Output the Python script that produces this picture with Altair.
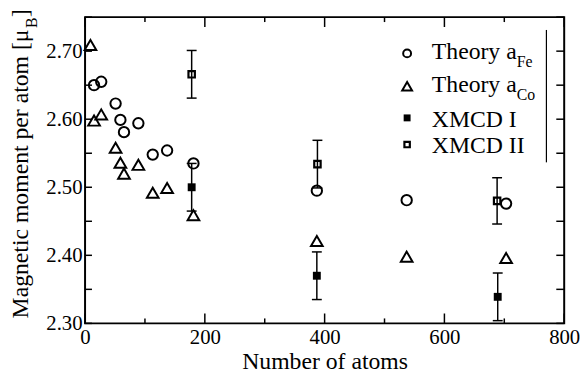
import altair as alt
import pandas as pd

# ---- data ----
fe_natoms = [15, 27, 51, 59, 65, 89, 113, 137, 181, 387, 537, 703]
fe_moment = [2.650, 2.655, 2.623, 2.599, 2.581, 2.594, 2.548, 2.554, 2.535, 2.495, 2.481, 2.476]

co_natoms = [9, 15, 27, 51, 59, 65, 89, 113, 137, 181, 387, 537, 703]
co_moment = [2.709, 2.598, 2.607, 2.558, 2.536, 2.520, 2.533, 2.492, 2.499, 2.459, 2.421, 2.398, 2.396]

xmcd1_natoms = [178, 387, 689]
xmcd1_moment = [2.500, 2.370, 2.339]
xmcd1_err = [0.035, 0.035, 0.035]

xmcd2_natoms = [178, 388, 688]
xmcd2_moment = [2.666, 2.534, 2.480]
xmcd2_err = [0.035, 0.035, 0.034]

x_label_values = [0, 200, 400, 600, 800]
x_major_ticks = [0, 200, 400, 600, 800]
x_minor_ticks = [100, 300, 500, 700]
y_label_values = [2.30, 2.40, 2.50, 2.60, 2.70]
y_ticks = [2.30, 2.35, 2.40, 2.45, 2.50, 2.55, 2.60, 2.65, 2.70, 2.75]

legend_labels = ["Theory a", "Theory a", "XMCD I", "XMCD II"]
legend_subs = ["Fe", "Co", "", ""]

FONT = "Liberation Serif"
W, H = 485, 310

xs = alt.Scale(domain=[0, 800], nice=False, zero=False)
ys = alt.Scale(domain=[2.30, 2.75], nice=False, zero=False)

AX_X = alt.Axis(
    values=x_label_values, format="d", ticks=False, tickSize=0, domain=False, grid=False,
    labelFont=FONT, labelFontSize=21, labelColor="black", labelPadding=3,
    labelFlush=False, labelOverlap=False,
    title="Number of atoms", titleFont=FONT, titleFontSize=24, titleFontWeight="normal",
    titleColor="black", titleBaseline="alphabetic", titleY=46)
AX_Y = alt.Axis(
    values=y_label_values, format=".2f", ticks=False, tickSize=0, domain=False, grid=False,
    labelFont=FONT, labelFontSize=21, labelColor="black", labelPadding=3,
    labelFlush=False, labelOverlap=False, title=None)

fe = pd.DataFrame({"n": fe_natoms, "m": fe_moment})
co = pd.DataFrame({"n": co_natoms, "m": co_moment})
x1 = pd.DataFrame({"n": xmcd1_natoms, "m": xmcd1_moment, "e": xmcd1_err})
x1["lo"] = x1.m - x1.e
x1["hi"] = x1.m + x1.e
x2 = pd.DataFrame({"n": xmcd2_natoms, "m": xmcd2_moment, "e": xmcd2_err})
x2["lo"] = x2.m - x2.e
x2["hi"] = x2.m + x2.e
xerr = pd.concat([x1, x2], ignore_index=True)


def X():
    return alt.X("n:Q", scale=xs, axis=AX_X)


def Y(f="m"):
    return alt.Y(f + ":Q", scale=ys, axis=AX_Y)


# ticks (inward, all four sides)
xmaj = pd.DataFrame({"n": x_major_ticks})
xmin = pd.DataFrame({"n": x_minor_ticks})
yt = pd.DataFrame({"m": y_ticks})
tk = dict(color="black", strokeWidth=1.5)
ticks = [
    alt.Chart(xmaj).mark_rule(**tk).encode(x=X(), y=alt.value(H), y2=alt.value(H - 10)),
    alt.Chart(xmaj).mark_rule(**tk).encode(x=X(), y=alt.value(0), y2=alt.value(10)),
    alt.Chart(xmin).mark_rule(**tk).encode(x=X(), y=alt.value(H), y2=alt.value(H - 5)),
    alt.Chart(xmin).mark_rule(**tk).encode(x=X(), y=alt.value(0), y2=alt.value(5)),
    alt.Chart(yt).mark_rule(**tk).encode(y=Y(), x=alt.value(0), x2=alt.value(7)),
    alt.Chart(yt).mark_rule(**tk).encode(y=Y(), x=alt.value(W), x2=alt.value(W - 8)),
]

# error bars
ebar = alt.Chart(xerr).mark_rule(color="black", strokeWidth=1.5).encode(
    x=X(), y=Y("lo"), y2="hi:Q")
cap_lo = alt.Chart(xerr).mark_rule(color="black", strokeWidth=1.5, xOffset=-5, x2Offset=5).encode(
    x=X(), x2="n:Q", y=Y("lo"))
cap_hi = alt.Chart(xerr).mark_rule(color="black", strokeWidth=1.5, xOffset=-5, x2Offset=5).encode(
    x=X(), x2="n:Q", y=Y("hi"))

pts_fe = alt.Chart(fe).mark_point(shape="circle", size=110, filled=False, color="black",
                                  strokeWidth=2, opacity=1).encode(x=X(), y=Y())
pts_co = alt.Chart(co).mark_point(shape="triangle-up", size=140, filled=False, color="black",
                                  strokeWidth=2, opacity=1).encode(x=X(), y=Y())
pts_x1 = alt.Chart(x1).mark_point(shape="square", size=64, filled=True, color="black",
                                  opacity=1).encode(x=X(), y=Y())
pts_x2 = alt.Chart(x2).mark_point(shape="square", size=42, filled=False, color="black",
                                  strokeWidth=2.2, opacity=1).encode(x=X(), y=Y())

# y-axis title with subscript
anchor = pd.DataFrame({"a": [0]})
ytitle = [
    alt.Chart(anchor).mark_text(angle=270, align="left", baseline="alphabetic", font=FONT,
                                fontSize=24, color="black").encode(
        x=alt.value(-58), y=alt.value(305), text=alt.value("Magnetic moment per atom [μ")),
    alt.Chart(anchor).mark_text(angle=270, align="left", baseline="alphabetic", font=FONT,
                                fontSize=16, color="black").encode(
        x=alt.value(-49), y=alt.value(11), text=alt.value("B")),
    alt.Chart(anchor).mark_text(angle=270, align="left", baseline="alphabetic", font=FONT,
                                fontSize=24, color="black").encode(
        x=alt.value(-58), y=alt.value(0), text=alt.value("]")),
]

# legend
sym_x, txt_x, sub_x = 326, 351, 437
row_sym_y = [36.7, 70, 102, 129]
row_txt_y = [42, 76, 111, 138]
leg_marks = [
    dict(shape="circle", size=64, filled=False, strokeWidth=2),
    dict(shape="triangle-up", size=100, filled=False, strokeWidth=2),
    dict(shape="square", size=49, filled=True),
    dict(shape="square", size=30, filled=False, strokeWidth=2.2),
]
legend = []
for i in range(4):
    legend.append(alt.Chart(anchor).mark_point(color="black", opacity=1, **leg_marks[i]).encode(
        x=alt.value(sym_x), y=alt.value(row_sym_y[i])))
    legend.append(alt.Chart(anchor).mark_text(align="left", baseline="alphabetic", font=FONT,
                                              fontSize=24, color="black").encode(
        x=alt.value(txt_x), y=alt.value(row_txt_y[i]), text=alt.value(legend_labels[i])))
    if legend_subs[i]:
        legend.append(alt.Chart(anchor).mark_text(align="left", baseline="alphabetic", font=FONT,
                                                  fontSize=16, color="black").encode(
            x=alt.value(sub_x), y=alt.value(row_txt_y[i] + 8), text=alt.value(legend_subs[i])))
legend.append(alt.Chart(anchor).mark_rule(color="black", strokeWidth=1.2).encode(
    x=alt.value(467), y=alt.value(13), y2=alt.value(147)))

chart = alt.layer(
    *ticks, ebar, cap_lo, cap_hi, pts_fe, pts_co, pts_x1, pts_x2, *ytitle, *legend
).properties(
    width=W, height=H,
    background="white",
    autosize=alt.AutoSizeParams(type="none"),
    padding={"left": 78, "top": 7, "right": 16, "bottom": 48},
).configure_view(stroke="black", strokeWidth=2)

chart.save("out.html", embed_options={"renderer": "svg", "actions": False})
